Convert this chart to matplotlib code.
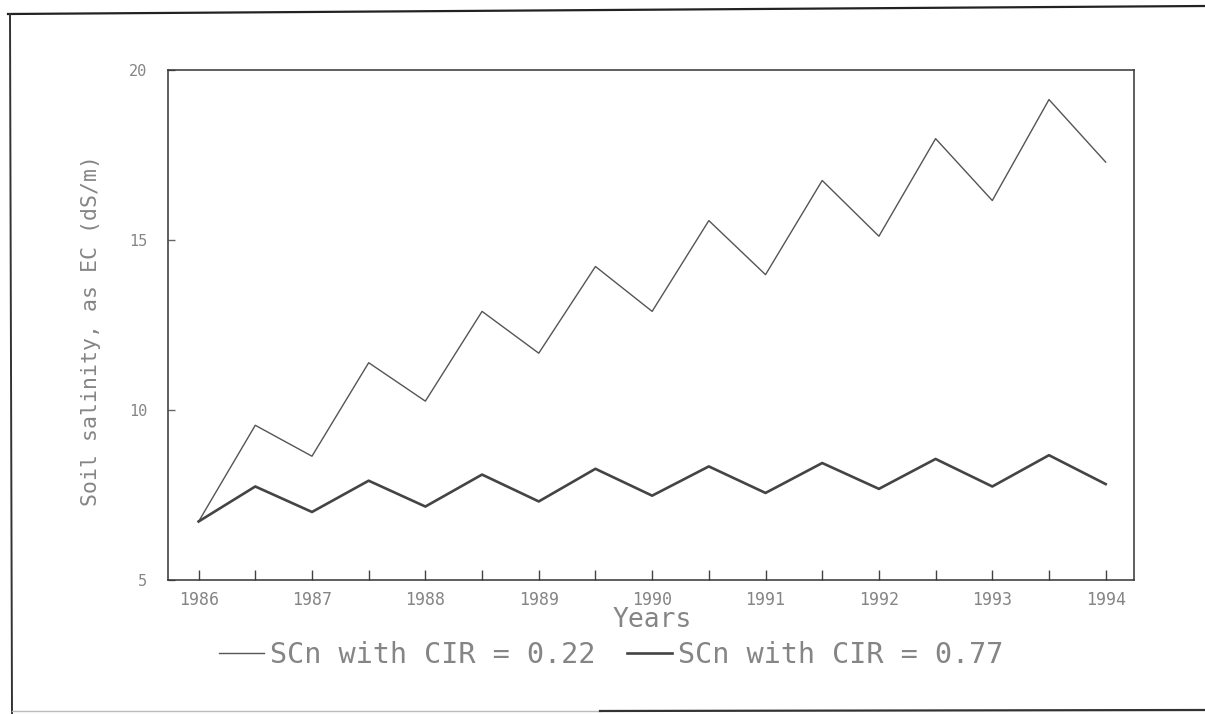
import numpy as np
import matplotlib
matplotlib.use("Agg")
import matplotlib.pyplot as plt
from matplotlib.lines import Line2D

# half-yearly soil salinity (EC, dS/m)
years = np.arange(1986, 1994.01, 0.5)
scn_022 = [6.72, 9.55, 8.64, 11.39, 10.26, 12.90, 11.67, 14.22, 12.90,
           15.57, 13.98, 16.75, 15.11, 17.98, 16.16, 19.13, 17.29]
scn_077 = [6.72, 7.75, 7.00, 7.92, 7.16, 8.10, 7.31, 8.27, 7.48,
           8.34, 7.56, 8.44, 7.68, 8.56, 7.75, 8.67, 7.82]
year_labels = ['1986', '1987', '1988', '1989', '1990', '1991', '1992', '1993', '1994']
ytick_vals = [5, 10, 15, 20]

mono = 'DejaVu Sans Mono'
txt = '#858585'

fig = plt.figure(figsize=(12.05, 7.14), dpi=100)
ax = fig.add_axes([0.1394, 0.1877, 0.8017, 0.7143])

ax.plot(years, scn_022, color='#555555', lw=1.0, label='SCn with CIR = 0.22')
ax.plot(years, scn_077, color='#444444', lw=1.9, label='SCn with CIR = 0.77')

ax.set_xlim(1985.73, 1994.25)
ax.set_ylim(5, 20)

# ticks every half year, labels only on whole years
ax.set_xticks(years)
ax.set_xticklabels([year_labels[i // 2] if i % 2 == 0 else '' for i in range(len(years))],
                   fontfamily=mono, fontsize=12, color=txt)
ax.set_yticks(ytick_vals)
ax.set_yticklabels([str(v) for v in ytick_vals], fontfamily=mono, fontsize=11, color=txt)
ax.tick_params(axis='x', direction='in', length=7, width=1, color='#444444', pad=8)
ax.tick_params(axis='y', direction='in', length=5, width=1, color='#666666', pad=15)
for s in ax.spines.values():
    s.set_color('#333333')
    s.set_linewidth(1.1)

fig.text(91 / 1205, 1 - 330 / 714, 'Soil salinity, as EC (dS/m)', rotation=90,
         ha='center', va='center', fontfamily=mono, fontsize=15.5, color=txt)
fig.text(652 / 1205, 1 - 620 / 714, 'Years', ha='center', va='center',
         fontfamily=mono, fontsize=19, color=txt)

leg = fig.legend(loc='center', bbox_to_anchor=(0.507, 1 - 655 / 714), ncol=2,
                 frameon=False, handlelength=1.6, handletextpad=0.2, columnspacing=1.1,
                 prop={'family': mono, 'size': 20.5})
for t in leg.get_texts():
    t.set_color(txt)

# page frame
W, H = 1205, 714
def fline(x0, y0, x1, y1, **kw):
    fig.add_artist(Line2D([x0 / W, x1 / W], [1 - y0 / H, 1 - y1 / H], **kw))

fline(8, 14, 1205, 6, color='#222222', lw=1.6)
fline(10, 14, 12, 714, color='#333333', lw=1.4)
fline(12, 711, 600, 711, color='#bbbbbb', lw=1.0)
fline(600, 711, 1205, 710, color='#333333', lw=1.6)

fig.savefig('out.png', dpi=100, facecolor='white')
